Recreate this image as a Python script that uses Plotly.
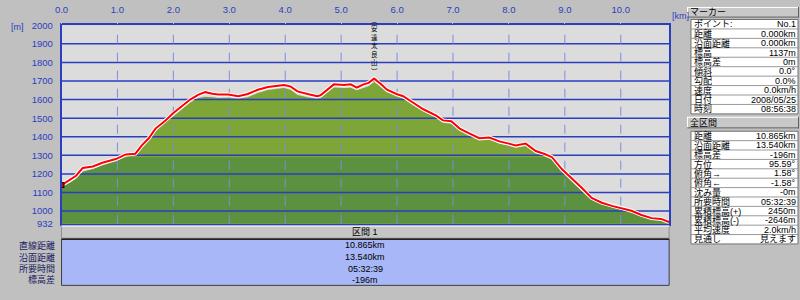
import plotly.graph_objects as go
import numpy as np

W, H = 800, 300

# ---------------- data ----------------
dist_km = [0.00, 0.05, 0.14, 0.26, 0.38, 0.56, 0.73, 0.97, 1.15, 1.32, 1.44, 1.56, 1.68, 1.86,
           2.00, 2.15, 2.30, 2.45, 2.57, 2.70, 2.80, 2.98, 3.16, 3.33, 3.51, 3.69, 3.87, 3.98,
           4.10, 4.22, 4.40, 4.57, 4.63, 4.75, 4.87, 5.05, 5.17, 5.28, 5.40, 5.49, 5.59, 5.70,
           5.82, 5.99, 6.11, 6.29, 6.47, 6.70, 6.82, 6.97, 7.12, 7.29, 7.47, 7.65, 7.83, 8.00,
           8.12, 8.30, 8.48, 8.65, 8.77, 8.95, 9.13, 9.31, 9.48, 9.66, 9.84, 10.02, 10.19, 10.37,
           10.55, 10.72, 10.865]
track_m = [1140, 1150, 1168, 1190, 1232, 1240, 1260, 1280, 1305, 1309, 1355, 1392, 1444, 1488,
           1528, 1562, 1600, 1627, 1640, 1632, 1627, 1627, 1618, 1630, 1653, 1668, 1676, 1679,
           1670, 1644, 1630, 1618, 1623, 1653, 1682, 1679, 1682, 1665, 1682, 1690, 1713, 1687,
           1653, 1630, 1618, 1583, 1548, 1514, 1488, 1483, 1444, 1418, 1392, 1396, 1375, 1363,
           1353, 1363, 1323, 1306, 1290, 1225, 1175, 1123, 1071, 1045, 1028, 1016, 1002, 979,
           962, 958, 941]
terrain_m = [1128, 1135, 1150, 1172, 1212, 1225, 1245, 1268, 1295, 1298, 1340, 1378, 1428, 1474,
             1515, 1548, 1585, 1608, 1615, 1612, 1608, 1610, 1605, 1612, 1635, 1652, 1660, 1662,
             1652, 1625, 1612, 1605, 1608, 1636, 1665, 1662, 1664, 1650, 1665, 1672, 1695, 1672,
             1640, 1618, 1606, 1570, 1536, 1502, 1476, 1470, 1432, 1406, 1380, 1384, 1363, 1351,
             1341, 1350, 1310, 1294, 1278, 1212, 1163, 1112, 1060, 1035, 1018, 1006, 992, 970,
             953, 950, 934]

x_ticks = [0, 1, 2, 3, 4, 5, 6, 7, 8, 9, 10]
x_tick_labels = ["0.0", "1.0", "2.0", "3.0", "4.0", "5.0", "6.0", "7.0", "8.0", "9.0", "10.0"]
y_ticks = [932, 1000, 1100, 1200, 1300, 1400, 1500, 1600, 1700, 1800, 1900, 2000]
y_tick_labels = ["932", "1000", "1100", "1200", "1300", "1400", "1500", "1600", "1700", "1800", "1900", "2000"]
grid_levels = [1000, 1100, 1200, 1300, 1400, 1500, 1600, 1700, 1800, 1900]

peak_name = "︵安達太良山︶"
peak_km = 5.59

section_name = "区間 1"
summary_labels = ["直線距離", "沿面距離", "所要時間", "標高差"]
summary_values = ["10.865km", "13.540km", "05:32:39", "-196m"]

marker_title = "マーカー"
marker_labels = ["ポイント:", "距離", "沿面距離", "標高", "標高差", "傾斜", "勾配", "速度", "日付", "時刻"]
marker_values = ["No.1", "0.000km", "0.000km", "1137m", "0m", "0.0°", "0.0%", "0.0km/h", "2008/05/25", "08:56:38"]

total_title = "全区間"
total_labels = ["距離", "沿面距離", "標高差", "方位", "俯角→", "俯角←", "沈み量", "所要時間",
                "累積標高(+)", "累積標高(-)", "平均速度", "見通し"]
total_values = ["10.865km", "13.540km", "-196m", "95.59°", "1.58°", "-1.58°", "-0m", "05:32:39",
                "2450m", "-2646m", "2.0km/h", "見えます"]

# ---------------- styling ----------------
X_MAX = 10.865
Y_MIN, Y_MAX = 932, 2000
BAND_TOP = 1290
BLUE = "#2A3EC0"
BG = "#C0C0C0"
FONT = "Liberation Sans, Noto Sans CJK JP, sans-serif"
PL, PR, PT, PB = 55, 668, 20, 226


def px(x):
    return x / W


def py(y):
    return 1 - y / H


fig = go.Figure()

fig.add_trace(go.Scatter(x=dist_km, y=terrain_m, mode="lines", fill="tozeroy",
                         fillcolor="#7DA537", line=dict(width=0), hoverinfo="skip"))
fig.add_trace(go.Scatter(x=dist_km, y=np.minimum(terrain_m, BAND_TOP), mode="lines", fill="tozeroy",
                         fillcolor="#5C9140", line=dict(width=0), hoverinfo="skip"))

hx, hy = [], []
for v in grid_levels:
    hx += [0, X_MAX, None]
    hy += [v, v, None]
fig.add_trace(go.Scatter(x=hx, y=hy, mode="lines", line=dict(color=BLUE, width=1.5), hoverinfo="skip"))

vx, vy = [], []
for v in x_ticks[1:]:
    vx += [v, v, None]
    vy += [Y_MIN, Y_MAX, None]
fig.add_trace(go.Scatter(x=vx, y=vy, mode="lines", line=dict(color="#7E8CE0", width=1, dash="dash"),
                         hoverinfo="skip"))

fig.add_trace(go.Scatter(x=dist_km, y=track_m, mode="lines", line=dict(color="white", width=4),
                         hoverinfo="skip"))
fig.add_trace(go.Scatter(x=dist_km, y=track_m, mode="lines", line=dict(color="#FF0000", width=2)))
fig.add_trace(go.Scatter(x=[dist_km[0]], y=[track_m[0]], mode="markers",
                         marker=dict(symbol="square", size=5, color="#E00000",
                                     line=dict(color="black", width=1))))

shapes = []
annotations = []


def rect(x0, y0, x1, y1, fill, line=None, lw=1):
    shapes.append(dict(type="rect", xref="paper", yref="paper", x0=px(x0), x1=px(x1),
                       y0=py(y1), y1=py(y0), fillcolor=fill,
                       line=dict(color=line or fill, width=lw if line else 0), layer="above"))


def hline(x0, x1, y, color, w=1):
    shapes.append(dict(type="line", xref="paper", yref="paper", x0=px(x0), x1=px(x1),
                       y0=py(y), y1=py(y), line=dict(color=color, width=w), layer="above"))


def vline(x, y0, y1, color, w=1):
    shapes.append(dict(type="line", xref="paper", yref="paper", x0=px(x), x1=px(x),
                       y0=py(y0), y1=py(y1), line=dict(color=color, width=w), layer="above"))


def text(x, y, s, anchor="left", color="black", size=9):
    annotations.append(dict(xref="paper", yref="paper", x=px(x), y=py(y), text=s, showarrow=False,
                            xanchor=anchor, yanchor="middle", borderpad=0,
                            font=dict(family=FONT, size=size, color=color)))


# axis unit labels
text(3, 22, "[m]", "left", BLUE, 9)
text(670, 10, "[km]", "left", BLUE, 9)

# peak label: vertical text, one character per line
annotations.append(dict(xref="x", yref="paper", x=peak_km, y=py(73), text="<br>".join(peak_name),
                        showarrow=False, xanchor="center", yanchor="bottom", borderpad=0,
                        borderwidth=0,
                        font=dict(family="Noto Sans CJK JP", size=6.5, color="black")))

# bottom panel
rect(PL, 228, PR, 241, "#C6C6C6", "#909090")
hline(PL, PR, 228.5, "white")
text((PL + PR) / 2, 235, section_name, "center", "black", 9)
rect(PL, 242, PR, 290, "#A7B7F7", "#404040")
hline(PL, PR, 242, "#202020", 1.5)
sum_y = [248.5, 261, 272.5, 284]
for lab, val, yy in zip(summary_labels, summary_values, sum_y):
    text(49, yy, lab, "right", "#1A1A60", 9)
    text((PL + PR) / 2, yy, val, "center", "black", 9)


# right panel
def header(y0, y1, s):
    rect(686, y0, 799, y1, "#C8C8C8")
    hline(686, 799, y0 + 0.5, "white")
    vline(686.5, y0, y1, "white")
    hline(686, 799, y1 - 0.5, "#606060")
    vline(798.5, y0, y1, "#606060")
    text(688, (y0 + y1) / 2, s, "left", "black", 9)


def table(y0, y1, labels, values):
    n = len(labels)
    rh = (y1 - y0) / n
    rect(690, y0, 798, y1, "white", "#707070")
    for i in range(1, n):
        hline(690, 798, y0 + i * rh, "#9A9A9A")
    for i, (lab, val) in enumerate(zip(labels, values)):
        yc = y0 + (i + 0.5) * rh
        text(692, yc, lab, "left", "black", 9)
        text(797, yc, val, "right", "black", 9)


header(1, 12, marker_title)
table(14, 112, marker_labels, marker_values)
header(115, 127, total_title)
table(130, 247, total_labels, total_values)

fig.update_layout(
    width=W, height=H, margin=dict(l=0, r=0, t=0, b=0),
    paper_bgcolor=BG, plot_bgcolor="#DCDCDC",
    showlegend=False, shapes=shapes, annotations=annotations,
    xaxis=dict(domain=[px(PL), px(PR)], range=[0, X_MAX], side="top", tickvals=x_ticks,
               ticktext=x_tick_labels, ticks="outside", ticklen=7, tickcolor=BG,
               showgrid=False, zeroline=False,
               showline=True, linecolor=BLUE, linewidth=1.5, mirror=True,
               tickfont=dict(family=FONT, size=9.5, color=BLUE), fixedrange=True),
    yaxis=dict(domain=[py(PB), py(PT)], range=[Y_MIN, Y_MAX], tickvals=y_ticks,
               ticktext=y_tick_labels, ticks="outside", ticklen=5, tickcolor=BG,
               showgrid=False, zeroline=False,
               showline=True, linecolor=BLUE, linewidth=1.5, mirror=True,
               tickfont=dict(family=FONT, size=9.5, color=BLUE), fixedrange=True),
)

fig.write_html("out.html")
